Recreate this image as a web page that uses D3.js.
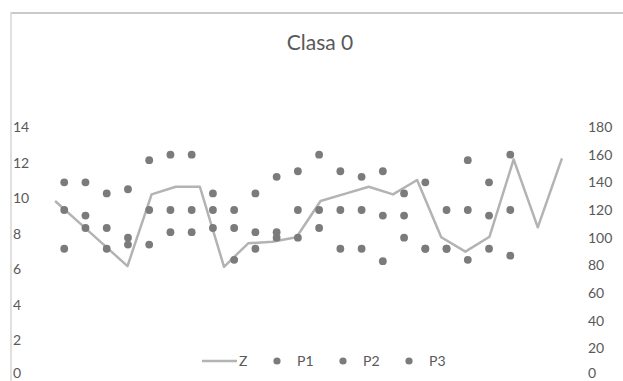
<!DOCTYPE html>
<html>
<head>
<meta charset="utf-8">
<script src="https://cdn.jsdelivr.net/npm/d3@7"></script>
<style>
  html, body { margin: 0; padding: 0; background: #fff; }
  svg { display: block; }
  text { font-family: Lato, "Open Sans", sans-serif; fill: #595959; }
</style>
</head>
<body>
<svg id="chart" width="623" height="381"></svg>
<script>
// ---- data ----
const title = "Clasa 0";
const categories = d3.range(1, 23);            // 22 observations
const zValues = [9.84, 8.62, 7.40, 6.18, 10.21, 10.64, 10.64, 6.14, 7.46, 7.55, 7.80,
                 9.84, 10.24, 10.64, 10.21, 11.02, 7.80, 6.99, 7.83, 12.18, 8.36, 12.24];
const p1Values = [92, 107, 92, 95, 95, 104, 104, 107, 84, 92, 100,
                  100, 107, 92, 92, 83, 100, 92, 92, 84, 92, 87];
const p2Values = [120, 116, 107, 100, 120, 120, 120, 120, 107, 104, 104,
                  120, 120, 120, 120, 116, 116, 92, 92, 120, 116, 120];
const p3Values = [140, 140, 132, 135, 156, 160, 160, 132, 120, 132, 144,
                  148, 160, 148, 144, 148, 132, 140, 120, 156, 140, 160];
const leftTicks = [0, 2, 4, 6, 8, 10, 12, 14];
const rightTicks = [0, 20, 40, 60, 80, 100, 120, 140, 160, 180];
const seriesNames = ["Z", "P1", "P2", "P3"];

// ---- layout ----
const W = 623, H = 381;
const plot = { left: 43, right: 574, top: 127, bottom: 376 };
const lineColor = "#b3b3b3", dotColor = "#7b7b7b";

const svg = d3.select("#chart");

// frame (partially visible chart border)
svg.append("line").attr("x1", 11).attr("x2", W).attr("y1", 13).attr("y2", 13)
   .attr("stroke", "#c9c9c9").attr("stroke-width", 2);
svg.append("line").attr("x1", 11).attr("x2", 11).attr("y1", 12).attr("y2", H)
   .attr("stroke", "#d6d6d6").attr("stroke-width", 1.5);

// title
svg.append("text").attr("x", 320).attr("y", 50)
   .attr("text-anchor", "middle").style("font-size", "21px").text(title);

// scales
const xZ = d3.scaleBand().domain(categories).range([plot.left, plot.right]);
const xP = d3.scaleLinear().domain([0, 25]).range([plot.left, plot.right]);
const yL = d3.scaleLinear().domain([0, 14]).range([plot.bottom, plot.top]);
const yR = d3.scaleLinear().domain([0, 180]).range([plot.bottom, plot.top]);

// axes (labels only)
const axL = svg.append("g").attr("transform", "translate(13,0)")
   .call(d3.axisRight(yL).tickValues(leftTicks).tickSize(0).tickPadding(0));
const axR = svg.append("g").attr("transform", "translate(588,0)")
   .call(d3.axisRight(yR).tickValues(rightTicks).tickSize(0).tickPadding(0));
[axL, axR].forEach(a => {
  a.select(".domain").remove();
  a.selectAll("text").style("font-size", "14px").attr("fill", "#595959")
    .style("font-family", "Lato, 'Open Sans', sans-serif")
    .attr("dy", d => d === 0 ? "0.12em" : "0.32em");
});

// Z line
const line = d3.line().x((d, i) => xZ(categories[i]) + xZ.bandwidth() / 2).y(d => yL(d));
svg.append("path").datum(zValues).attr("d", line)
   .attr("fill", "none").attr("stroke", lineColor).attr("stroke-width", 2.5)
   .attr("stroke-linejoin", "round");

// P dots
[p1Values, p2Values, p3Values].forEach(vals => {
  svg.append("g").selectAll("circle").data(vals).join("circle")
    .attr("cx", (d, i) => xP(categories[i]))
    .attr("cy", d => yR(d))
    .attr("r", 3.9)
    .attr("fill", dotColor);
});

// legend
const lg = svg.append("g").attr("transform", "translate(0,361)");
lg.append("line").attr("x1", 202).attr("x2", 237).attr("y1", 0).attr("y2", 0)
  .attr("stroke", lineColor).attr("stroke-width", 2.5);
lg.append("text").attr("x", 239).attr("y", 0).attr("dy", "0.35em")
  .style("font-size", "14px").text(seriesNames[0]);
const dotX = [277, 343, 409];
seriesNames.slice(1).forEach((n, i) => {
  lg.append("circle").attr("cx", dotX[i]).attr("cy", 0).attr("r", 3.6).attr("fill", dotColor);
  lg.append("text").attr("x", dotX[i] + 20).attr("y", 0).attr("dy", "0.35em")
    .style("font-size", "14px").text(n);
});
</script>
</body>
</html>
